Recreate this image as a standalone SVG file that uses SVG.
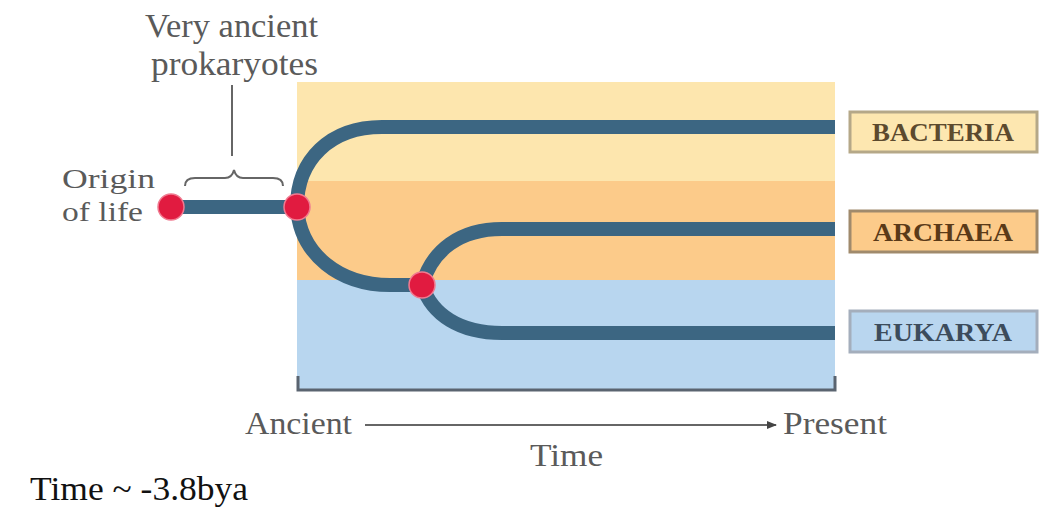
<svg xmlns="http://www.w3.org/2000/svg" width="1050" height="509" viewBox="0 0 1050 509">
<style>
.lbl{font-family:"Liberation Serif","Times New Roman",serif;fill:#5a5a5a;font-size:32px}
.blk{font-family:"Liberation Serif","Times New Roman",serif;fill:#111;font-size:33px}
.branch{fill:none;stroke:#3c6682;stroke-width:14}
.dot{fill:#e11b40;stroke:#f07a90;stroke-width:1.5}
.box{stroke-width:3}
.boxt{font-family:"Liberation Serif","Times New Roman",serif;font-weight:bold;font-size:25px;text-anchor:middle}
</style>
<defs>
<marker id="ah" markerWidth="10" markerHeight="8" refX="9" refY="4" orient="auto" markerUnits="userSpaceOnUse">
<path d="M0,0 L10,4 L0,8 Z" fill="#444"/>
</marker>
</defs>
<rect width="1050" height="509" fill="#fff"/>
<g id="bands">
<rect x="297" y="82" width="538" height="99" fill="#fde6ae"/>
<rect x="297" y="181" width="538" height="99" fill="#fccb8a"/>
<rect x="297" y="280" width="538" height="109" fill="#b8d6ef"/>
</g>
<g id="connectors">
<line x1="171" y1="207" x2="297" y2="207" class="branch"/>
<path class="branch" d="M297,207 C297,160 330,127 382,127 L835,127"/>
<path class="branch" d="M297,207 C300,255 340,285 390,285 L422,285"/>
<path class="branch" d="M422,285 C432,250 460,229 502,229 L835,229"/>
<path class="branch" d="M422,285 C432,315 460,333 502,333 L835,333"/>
<path d="M185,186 Q185,178 195,178 L225,178 Q232,178 234,170 Q236,178 243,178 L273,178 Q283,178 283,186" fill="none" stroke="#666" stroke-width="2"/>
<line x1="232" y1="85" x2="232" y2="156" stroke="#666" stroke-width="2"/>
<path d="M298,376 L298,390 L835,390 L835,376" fill="none" stroke="#5a6470" stroke-width="3"/>
<line x1="365" y1="425" x2="776" y2="425" stroke="#666" stroke-width="2" marker-end="url(#ah)"/>
</g>
<g id="origin">
<circle class="dot" cx="171" cy="207" r="13"/>
<text class="lbl" x="62" y="188" style="font-size:28px" textLength="93" lengthAdjust="spacingAndGlyphs">Origin</text>
<text class="lbl" x="62" y="221" style="font-size:28px" textLength="81" lengthAdjust="spacingAndGlyphs">of life</text>
</g>
<g id="ancient-prokaryotes">
<circle class="dot" cx="297" cy="207" r="13"/>
<text class="lbl" x="145" y="37" style="font-size:33px" textLength="173" lengthAdjust="spacingAndGlyphs">Very ancient</text>
<text class="lbl" x="151" y="75" style="font-size:33px" textLength="167" lengthAdjust="spacingAndGlyphs">prokaryotes</text>
</g>
<g id="split">
<circle class="dot" cx="422" cy="285" r="13"/>
</g>
<g id="bacteria">
<rect class="box" x="850" y="112" width="187" height="40" fill="#fde7b0" stroke="#b5a888"/>
<text class="boxt" x="943" y="141" fill="#5c4a2e" textLength="142" lengthAdjust="spacingAndGlyphs">BACTERIA</text>
</g>
<g id="archaea">
<rect class="box" x="850" y="211" width="187" height="41" fill="#fccb8a" stroke="#a08a6c"/>
<text class="boxt" x="943" y="241" fill="#5a3a18" textLength="140" lengthAdjust="spacingAndGlyphs">ARCHAEA</text>
</g>
<g id="eukarya">
<rect class="box" x="850" y="311" width="187" height="41" fill="#b9d6ef" stroke="#a4aebc"/>
<text class="boxt" x="943" y="341" fill="#3c4c5c" textLength="138" lengthAdjust="spacingAndGlyphs">EUKARYA</text>
</g>
<g id="time-axis">
<text class="lbl" x="245" y="434" textLength="107" lengthAdjust="spacingAndGlyphs">Ancient</text>
<text class="lbl" x="783" y="434" textLength="104" lengthAdjust="spacingAndGlyphs">Present</text>
<text class="lbl" x="530" y="466" textLength="73" lengthAdjust="spacingAndGlyphs">Time</text>
</g>
<text class="blk" x="30" y="500" textLength="218" lengthAdjust="spacingAndGlyphs">Time ~ -3.8bya</text>
</svg>
